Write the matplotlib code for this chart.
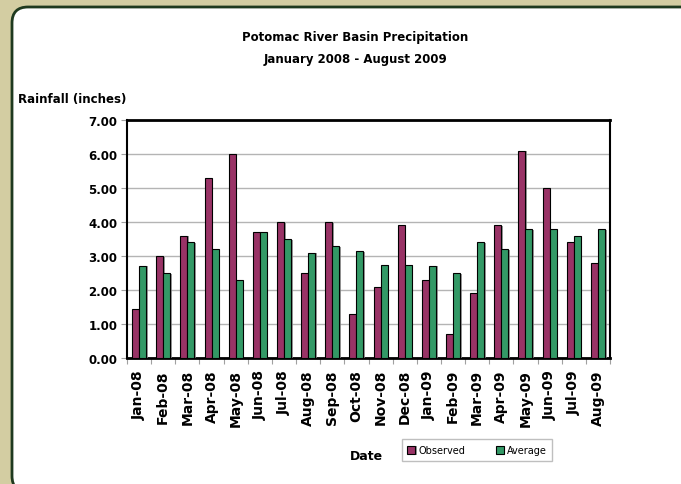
import numpy as np
import matplotlib.pyplot as plt
from matplotlib.patches import FancyBboxPatch
import matplotlib.patheffects as pe

months = ['Jan-08', 'Feb-08', 'Mar-08', 'Apr-08', 'May-08', 'Jun-08', 'Jul-08',
          'Aug-08', 'Sep-08', 'Oct-08', 'Nov-08', 'Dec-08', 'Jan-09', 'Feb-09',
          'Mar-09', 'Apr-09', 'May-09', 'Jun-09', 'Jul-09', 'Aug-09']
observed = [1.45, 3.0, 3.6, 5.3, 6.0, 3.7, 4.0, 2.5, 4.0, 1.3, 2.1, 3.9,
            2.3, 0.7, 1.9, 3.9, 6.1, 5.0, 3.4, 2.8]
average = [2.72, 2.5, 3.4, 3.2, 2.3, 3.7, 3.5, 3.1, 3.3, 3.15, 2.75, 2.75,
           2.72, 2.5, 3.4, 3.2, 3.8, 3.8, 3.6, 3.8]

fig = plt.figure(figsize=(6.81, 4.85), dpi=100, facecolor='#d3cda2')

# white rounded panel with dark green edge (in inches, so the corner stays round)
panel = FancyBboxPatch((0.12, -0.08), 7.5, 4.85 - 0.08 + 0.08,
                       boxstyle='round,pad=0,rounding_size=0.16',
                       transform=fig.dpi_scale_trans, facecolor='white',
                       edgecolor='#1f3a1f', linewidth=2, zorder=-5)
fig.patches.append(panel)

ax = fig.add_axes([127/681, 1 - 359/485, 483/681, 238/485])
ax.set_facecolor('white')
ax.set_zorder(2)

x = np.arange(len(months))
w = 0.29
shadow = [pe.SimplePatchShadow(offset=(1.2, -0.6), shadow_rgbFace='#808080', alpha=0.8), pe.Normal()]
b1 = ax.bar(x - w/2, observed, w, color='#993366', edgecolor='black', linewidth=0.8,
            label='Observed', zorder=3)
b2 = ax.bar(x + w/2, average, w, color='#339966', edgecolor='black', linewidth=0.8,
            label='Average', zorder=3)
for b in list(b1) + list(b2):
    b.set_path_effects(shadow)

ax.set_xlim(-0.5, len(months) - 0.5)
ax.set_ylim(0, 7)
ax.set_yticks(np.arange(0, 8, 1))
ax.set_yticklabels(['%.2f' % v for v in np.arange(0, 8, 1)], fontsize=8.5, fontweight='bold')
ax.yaxis.grid(True, color='#b4b4b4', linewidth=1, zorder=0)
ax.set_axisbelow(True)

ax.set_xticks(x)
ax.set_xticklabels(months, rotation=90, fontsize=10, fontweight='bold')
ax.set_xticks(np.arange(-0.5, len(months), 1), minor=True)
ax.tick_params(axis='x', which='major', length=0, pad=8)
ax.tick_params(axis='x', which='minor', length=4, color='#a0a0a0', width=0.8)
ax.tick_params(axis='y', length=4, color='#a0a0a0', width=0.8, pad=3)

ax.spines['top'].set_linewidth(2)
ax.spines['bottom'].set_linewidth(2)
ax.spines['left'].set_linewidth(1.5)
ax.spines['right'].set_linewidth(1.5)

fig.text(355/681, 1 - 37/485, 'Potomac River Basin Precipitation', ha='center', va='center',
         fontsize=8.5, fontweight='bold')
fig.text(355/681, 1 - 59/485, 'January 2008 - August 2009', ha='center', va='center',
         fontsize=8.5, fontweight='bold')
fig.text(18/681, 1 - 100/485, 'Rainfall (inches)', ha='left', va='center',
         fontsize=8.5, fontweight='bold')
fig.text(366/681, 1 - 457/485, 'Date', ha='center', va='center',
         fontsize=9, fontweight='bold')

leg = fig.legend(handles=[b1, b2], loc='center', bbox_to_anchor=(477/681, 1 - 451/485),
                 ncol=2, fontsize=7, frameon=True, fancybox=False, edgecolor='#b0b0b0',
                 handlelength=0.8, handleheight=0.9, columnspacing=3.2, handletextpad=0.3,
                 borderpad=0.6)
leg.get_frame().set_linewidth(1)

fig.savefig('out.png', dpi=100, facecolor=fig.get_facecolor())
